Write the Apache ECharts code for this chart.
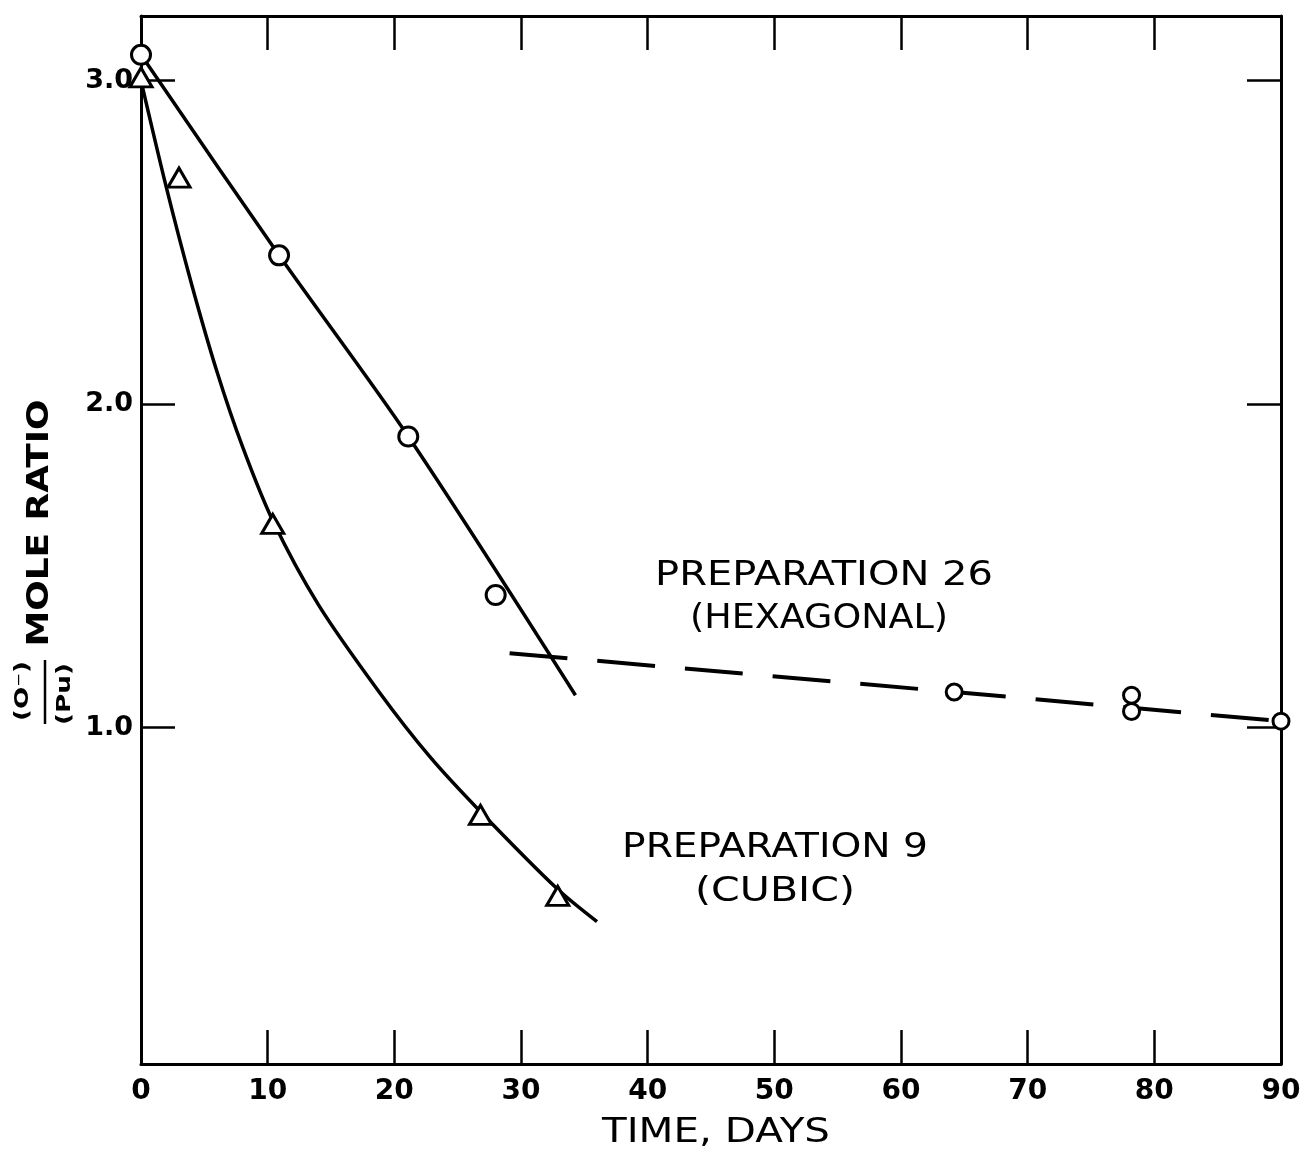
<!DOCTYPE html>
<html>
<head>
<meta charset="utf-8">
<script src="https://cdn.jsdelivr.net/npm/echarts@6/dist/echarts.min.js"></script>
<style>
  html, body { margin: 0; padding: 0; background: #fff; }
  #main { width: 1311px; height: 1164px; }
</style>
</head>
<body>
<div id="main"></div>
<script>
// Preparation 26 (hexagonal), open circles
const hexDays  = [0, 10.9, 21.1, 28.0, 64.2, 78.2, 78.2, 90.0];
const hexRatio = [3.08, 2.46, 1.90, 1.41, 1.11, 1.10, 1.05, 1.02];
// solid line through the early hexagonal points
const hexFitDays  = [0, 10.9, 21.1, 34.3];
const hexFitRatio = [3.08, 2.46, 1.90, 1.10];
// dashed line for the later hexagonal points
const hexTrendDays  = [29.1, 64.2, 90.0];
const hexTrendRatio = [1.23, 1.11, 1.02];

// Preparation 9 (cubic), open triangles
const cubDays  = [0, 3.0, 10.4, 26.8, 32.9];
const cubRatio = [3.01, 2.70, 1.63, 0.73, 0.48];
const cubFitDays  = [0, 2, 4, 6, 8, 10.4, 14, 18.8, 22.8, 26.8, 32.9, 36];
const cubFitRatio = [3.0, 2.67, 2.37, 2.10, 1.87, 1.64, 1.38, 1.11, 0.91, 0.74, 0.50, 0.40];

const xLabels = [0, 10, 20, 30, 40, 50, 60, 70, 80, 90];
const xInnerTicks = [10, 20, 30, 40, 50, 60, 70, 80];
const yTicks = [1, 2, 3];

const zip = (a, b) => a.map((v, i) => [v, b[i]]);

// stretch text horizontally so it covers the same width as in the drawing
const ctx = document.createElement('canvas').getContext('2d');
function fit(text, font, width) {
  ctx.font = font;
  return width / ctx.measureText(text).width;
}

function label(text, x, y, font, width, rot) {
  return {
    type: 'text', x: x, y: y, rotation: rot || 0,
    scaleX: fit(text, font, width),
    style: {
      text: text, font: font, fill: '#000',
      align: 'center', verticalAlign: 'middle',
      textAlign: 'center', textVerticalAlign: 'middle'
    },
    z: 10
  };
}

const chart = echarts.init(document.getElementById('main'));

const frameLine = { show: true, onZero: false, lineStyle: { color: '#000', width: 3 } };
const tickStyle = { color: '#000', width: 2.5 };

const annFont = '33px "DejaVu Sans"';
const axFont = 'bold 30px "DejaVu Sans"';
const fracFont = 'bold 19px "DejaVu Sans"';

chart.setOption({
  animation: false,
  backgroundColor: '#fff',
  grid: { left: 141, right: 30, top: 16, bottom: 100 },
  xAxis: [
    {
      type: 'value', min: 0, max: 90, interval: 10, position: 'bottom',
      axisLine: frameLine,
      axisTick: { show: true, inside: true, length: 34, lineStyle: tickStyle, customValues: xInnerTicks },
      axisLabel: {
        customValues: xLabels, margin: 14, color: '#000',
        fontSize: 28, fontWeight: 'bold', fontFamily: 'DejaVu Sans'
      },
      splitLine: { show: false }
    },
    {
      type: 'value', min: 0, max: 90, interval: 10, position: 'top',
      axisLine: frameLine,
      axisTick: { show: true, inside: true, length: 34, lineStyle: tickStyle, customValues: xInnerTicks },
      axisLabel: { show: false },
      splitLine: { show: false }
    }
  ],
  yAxis: [
    {
      type: 'value', min: -0.04, max: 3.2, position: 'left',
      axisLine: frameLine,
      axisTick: { show: true, inside: true, length: 34, lineStyle: tickStyle, customValues: yTicks },
      axisLabel: {
        customValues: yTicks, margin: 8, color: '#000',
        fontSize: 27, fontWeight: 'bold', fontFamily: 'DejaVu Sans',
        formatter: v => v.toFixed(1)
      },
      splitLine: { show: false }
    },
    {
      type: 'value', min: -0.04, max: 3.2, position: 'right',
      axisLine: frameLine,
      axisTick: { show: true, inside: true, length: 34, lineStyle: tickStyle, customValues: yTicks },
      axisLabel: { show: false },
      splitLine: { show: false }
    }
  ],
  series: [
    {
      name: 'Prep 26 fit', type: 'line', data: zip(hexFitDays, hexFitRatio),
      showSymbol: false, smooth: 0.3, lineStyle: { color: '#000', width: 3.5 }, z: 2
    },
    {
      name: 'Prep 26 trend', type: 'line', data: zip(hexTrendDays, hexTrendRatio),
      showSymbol: false, lineStyle: { color: '#000', width: 4, type: [58, 30] }, z: 2
    },
    {
      name: 'Prep 9 fit', type: 'line', data: zip(cubFitDays, cubFitRatio),
      showSymbol: false, smooth: 0.3, lineStyle: { color: '#000', width: 3.5 }, z: 2
    },
    {
      name: 'Preparation 26', type: 'scatter', data: zip(hexDays, hexRatio),
      symbol: 'circle', clip: false,
      symbolSize: (v, p) => (p.dataIndex < 4 ? 19 : 16),
      itemStyle: { color: '#fff', borderColor: '#000', borderWidth: 3, opacity: 1 }, z: 5
    },
    {
      name: 'Preparation 9', type: 'scatter', data: zip(cubDays, cubRatio),
      symbol: 'triangle', symbolSize: [22, 19], clip: false,
      itemStyle: { color: '#fff', borderColor: '#000', borderWidth: 3, opacity: 1 }, z: 5
    }
  ],
  graphic: [
    label('PREPARATION 26', 824, 576, annFont, 338),
    label('(HEXAGONAL)', 819, 619, annFont, 258),
    label('PREPARATION 9', 775, 848, annFont, 306),
    label('(CUBIC)', 775, 892, annFont, 160),
    label('TIME, DAYS', 716, 1133, '34px "DejaVu Sans"', 228),
    label('MOLE RATIO', 40, 523, axFont, 247, Math.PI / 2),
    label('(O\u207B)', 23, 691, fracFont, 60, Math.PI / 2),
    label('(Pu)', 65, 694, fracFont, 62, Math.PI / 2),
    {
      type: 'line', shape: { x1: 45, y1: 660, x2: 45, y2: 724 },
      style: { stroke: '#000', lineWidth: 2.5 }, z: 10
    }
  ]
});
</script>
</body>
</html>
